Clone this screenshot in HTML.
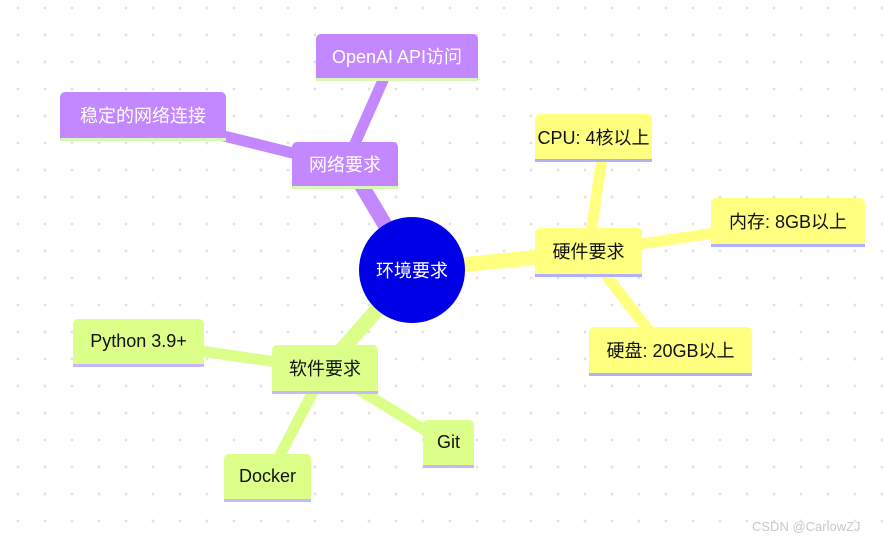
<!DOCTYPE html>
<html><head><meta charset="utf-8"><style>
html,body{margin:0;padding:0}
body{width:884px;height:544px;position:relative;overflow:hidden;background:#fff;
background-image:radial-gradient(circle,#e2e2e2 1.2px,transparent 1.6px);background-size:27px 27px;background-position:4.5px -5.5px;
font-family:"Liberation Sans","Noto Sans CJK SC",sans-serif;}
.n{position:absolute;box-sizing:border-box;border-radius:5px 5px 0 0;font-size:18px;display:flex;align-items:center;justify-content:center;white-space:nowrap}
.p{background:#c387ff;color:#fff;border-bottom:3px solid #d8f7b8}
.y{background:#ffff80;color:#111;border-bottom:3px solid #b0b0ff}
.g{background:#dcff8a;color:#111;border-bottom:3px solid #c8b6ff}
svg{position:absolute;left:0;top:0}
</style></head><body>
<svg width="884" height="544">
<g stroke-linecap="butt">
<line x1="412" y1="270" x2="350" y2="166" stroke="#c387ff" stroke-width="15"/>
<line x1="345" y1="166" x2="143" y2="116" stroke="#c387ff" stroke-width="11"/>
<line x1="345" y1="166" x2="392" y2="60" stroke="#c387ff" stroke-width="11"/>
<line x1="412" y1="270" x2="588" y2="252" stroke="#ffff80" stroke-width="15"/>
<line x1="588" y1="252" x2="605" y2="138" stroke="#ffff80" stroke-width="11"/>
<line x1="588" y1="252" x2="787" y2="222" stroke="#ffff80" stroke-width="11"/>
<line x1="588" y1="252" x2="660" y2="345" stroke="#ffff80" stroke-width="11"/>
<line x1="412" y1="270" x2="325" y2="369" stroke="#dcff8a" stroke-width="15"/>
<line x1="325" y1="369" x2="138" y2="342" stroke="#dcff8a" stroke-width="11"/>
<line x1="325" y1="369" x2="268" y2="478" stroke="#dcff8a" stroke-width="11"/>
<line x1="325" y1="369" x2="448" y2="444" stroke="#dcff8a" stroke-width="11"/>
</g>
<circle cx="412" cy="270" r="53" fill="#0000e6"/>
<text x="412" y="277" fill="#fff" font-size="18" text-anchor="middle" font-family="Liberation Sans, Noto Sans CJK SC, sans-serif">环境要求</text>
</svg>
<div class="n p" style="left:316px;top:34px;width:162px;height:47px">OpenAI API访问</div>
<div class="n p" style="left:60px;top:92px;width:166px;height:49px">稳定的网络连接</div>
<div class="n p" style="left:292px;top:142px;width:106px;height:47px">网络要求</div>
<div class="n y" style="left:535px;top:228px;width:107px;height:49px">硬件要求</div>
<div class="n y" style="left:535px;top:114px;width:117px;height:48px">CPU: 4核以上</div>
<div class="n y" style="left:711px;top:198px;width:154px;height:49px">内存: 8GB以上</div>
<div class="n y" style="left:589px;top:327px;width:163px;height:49px">硬盘: 20GB以上</div>
<div class="n g" style="left:272px;top:345px;width:106px;height:49px">软件要求</div>
<div class="n g" style="left:73px;top:319px;width:131px;height:48px">Python 3.9+</div>
<div class="n g" style="left:224px;top:454px;width:87px;height:48px">Docker</div>
<div class="n g" style="left:423px;top:420px;width:51px;height:48px">Git</div>
<div style="position:absolute;left:752px;top:519px;font-size:13px;color:#c8c8c8">CSDN @CarlowZJ</div>
</body></html>
